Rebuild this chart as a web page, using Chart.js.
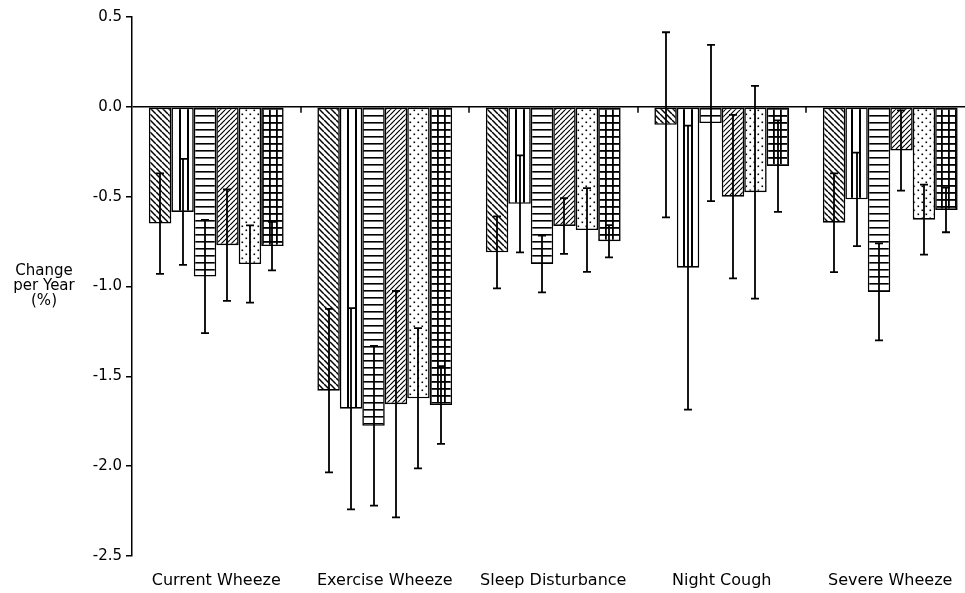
<!DOCTYPE html>
<html><head><meta charset="utf-8">
<script src="https://cdn.jsdelivr.net/npm/chart.js@4/dist/chart.umd.min.js"></script>
<style>
html,body{margin:0;padding:0;background:#fff;overflow:hidden;}
#wrap{width:965px;height:593px;overflow:hidden;position:relative;background:#fff;}
canvas{display:block;}
</style></head><body>
<div id="wrap"><canvas id="c" width="980" height="593"></canvas></div>
<script>
// ---- data ----
const categories = ['Current Wheeze','Exercise Wheeze','Sleep Disturbance','Night Cough','Severe Wheeze'];
const seriesNames = ['Group 1','Group 2','Group 3','Group 4','Group 5','Group 6'];
const s1Values = [-0.65, -1.58, -0.81, -0.10, -0.645];
const s1Errors = [0.28, 0.455, 0.20, 0.515, 0.275];
const s2Values = [-0.585, -1.68, -0.54, -0.895, -0.515];
const s2Errors = [0.295, 0.56, 0.27, 0.79, 0.26];
const s3Values = [-0.945, -1.775, -0.875, -0.09, -1.03];
const s3Errors = [0.315, 0.445, 0.158, 0.435, 0.27];
const s4Values = [-0.77, -1.655, -0.663, -0.50, -0.243];
const s4Errors = [0.31, 0.63, 0.155, 0.455, 0.223];
const s5Values = [-0.875, -1.622, -0.686, -0.475, -0.628];
const s5Errors = [0.215, 0.39, 0.233, 0.592, 0.195];
const s6Values = [-0.775, -1.66, -0.748, -0.33, -0.574];
const s6Errors = [0.135, 0.216, 0.09, 0.255, 0.124];
const yTicks = [0.5, 0.0, -0.5, -1.0, -1.5, -2.0, -2.5];
const yAxisTitle = ['Change', 'per Year', '(%)'];

// ---- hatch patterns ----
function makePattern(w, h, draw){
  const c = document.createElement('canvas'); c.width = w; c.height = h;
  const g = c.getContext('2d'); g.fillStyle = '#fff'; g.fillRect(0,0,w,h);
  g.strokeStyle = '#000'; g.fillStyle = '#000'; draw(g, w, h);
  return document.getElementById('c').getContext('2d').createPattern(c, 'repeat');
}
const patBackDiag = makePattern(6, 6, (g,s)=>{ g.lineWidth = 1.5; for (const o of [-s,0,s]) { g.beginPath(); g.moveTo(o,0); g.lineTo(o+s,s); g.stroke(); } });
const patVert = makePattern(8, 8, (g)=>{ g.fillRect(3,0,2,8); });
const patHoriz = makePattern(7, 7, (g)=>{ g.fillRect(0,3,7,1.6); });
const patFwdDiag = makePattern(5, 5, (g,s)=>{ g.lineWidth = 1.2; for (const o of [-s,0,s]) { g.beginPath(); g.moveTo(o,s); g.lineTo(o+s,0); g.stroke(); } });
const patDots = makePattern(8, 8, (g)=>{ g.fillRect(1.5,1.5,1.6,1.6); g.fillRect(5.5,5.5,1.6,1.6); });
const patGrid = makePattern(7, 7, (g)=>{ g.fillRect(3,0,1.8,7); g.fillRect(0,3,7,1.8); });

const values = [s1Values,s2Values,s3Values,s4Values,s5Values,s6Values];
const errors = [s1Errors,s2Errors,s3Errors,s4Errors,s5Errors,s6Errors];
const patterns = [patBackDiag, patVert, patHoriz, patFwdDiag, patDots, patGrid];

const datasets = values.map((v,i)=>({
  label: seriesNames[i], data: v, errors: errors[i],
  backgroundColor: patterns[i], borderColor: '#000', borderWidth: 1.6, borderSkipped: false,
  categoryPercentage: 0.8, barPercentage: 1.0
}));

const errorBarPlugin = {
  id: 'errorBars',
  afterDatasetsDraw(chart){
    const ctx = chart.ctx, ys = chart.scales.y, xs = chart.scales.x;
    ctx.save();
    ctx.strokeStyle = '#000'; ctx.lineWidth = 1.8;
    chart.data.datasets.forEach((ds,i)=>{
      const meta = chart.getDatasetMeta(i);
      meta.data.forEach((bar,j)=>{
        const m = ds.data[j], e = ds.errors[j];
        const x = Math.round(bar.x);
        const yt = ys.getPixelForValue(m+e), yb = ys.getPixelForValue(m-e);
        ctx.beginPath();
        ctx.moveTo(x, yt); ctx.lineTo(x, yb);
        ctx.moveTo(x-4, yt); ctx.lineTo(x+4, yt);
        ctx.moveTo(x-4, yb); ctx.lineTo(x+4, yb);
        ctx.stroke();
      });
    });
    // category boundary ticks hanging from the zero line
    const y0 = ys.getPixelForValue(0);
    ctx.lineWidth = 1.5;
    for (let k=1; k<categories.length; k++){
      const px = Math.round((xs.getPixelForValue(k-1) + xs.getPixelForValue(k))/2);
      ctx.beginPath(); ctx.moveTo(px, y0); ctx.lineTo(px, y0+6); ctx.stroke();
    }
    ctx.restore();
  },
  afterDraw(chart){
    const ctx = chart.ctx, ys = chart.scales.y;
    const yc = ys.getPixelForValue(-1.0);
    ctx.save();
    ctx.font = '15px "DejaVu Sans"'; ctx.fillStyle = '#000';
    ctx.textAlign = 'center'; ctx.textBaseline = 'middle';
    yAxisTitle.forEach((t,i)=> ctx.fillText(t, 44, yc + (i-1)*15));
    ctx.restore();
  }
};

new Chart(document.getElementById('c'), {
  type: 'bar',
  data: { labels: categories, datasets },
  plugins: [errorBarPlugin],
  options: {
    responsive: false, animation: false,
    layout: { padding: { top: 17, right: 5.5, bottom: 0, left: 0 } },
    plugins: { legend: { display: false }, tooltip: { enabled: false } },
    scales: {
      x: {
        grid: { display: false, drawTicks: false }, border: { display: false },
        ticks: { color: '#000', font: { family: 'DejaVu Sans', size: 16 }, padding: 15, maxRotation: 0, autoSkip: false },
        afterFit(s){ s.height = 37; }
      },
      y: {
        min: -2.5, max: 0.5,
        afterBuildTicks(s){ s.ticks = yTicks.map(v=>({value:v})); },
        border: { display: true, color: '#000', width: 1.5 },
        grid: { color: c => (c.tick && c.tick.value === 0) ? '#000' : 'rgba(0,0,0,0)', lineWidth: 1.5, tickColor: '#000', tickLength: 6, drawTicks: true },
        ticks: { color: '#000', font: { family: 'DejaVu Sans', size: 15 }, padding: 4, callback: v => Number(v).toFixed(1) },
        afterFit(s){ s.width = 132; }
      }
    }
  }
});
</script>
</body></html>
